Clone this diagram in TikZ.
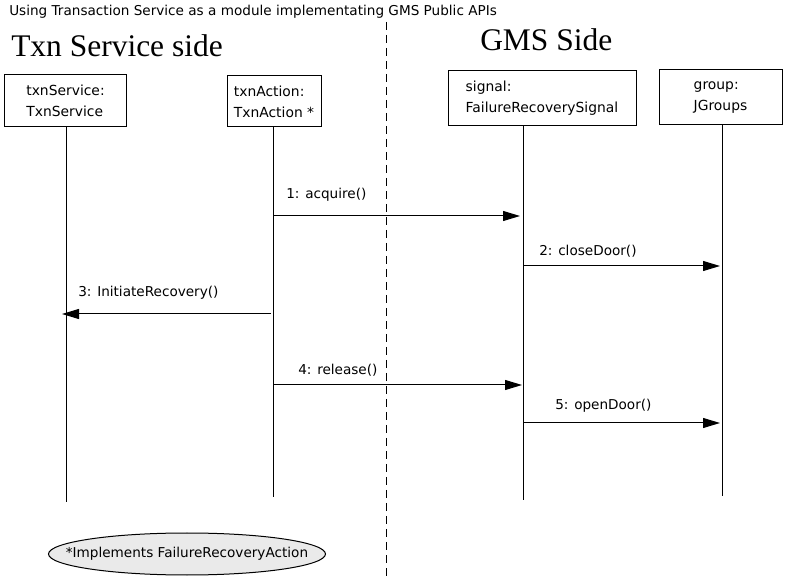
\documentclass[tikz,border=0pt]{standalone}
\usepackage{fontspec}
\setmainfont{DejaVu Sans}
\newfontfamily\headfont{Liberation Serif}
\usetikzlibrary{arrows.meta,shapes.geometric}
\definecolor{notefill}{RGB}{234,234,234}
\begin{document}
\begin{tikzpicture}[x=0.75pt,y=-0.75pt,
  objbox/.style={draw,line width=0.75pt,inner sep=0pt,align=left,font=\fontsize{10.4}{15.5}\selectfont},
  lifeline/.style={line width=0.75pt},
  msg/.style={line width=0.75pt,-{Triangle[length=12.75pt,width=7.5pt]}},
  msglabel/.style={anchor=base west,inner sep=0pt,font=\fontsize{10.2}{12}\selectfont},
  heading/.style={anchor=base west,inner sep=0pt,font=\headfont\fontsize{23.6}{28}\selectfont},
  divider/.style={line width=0.75pt,dash pattern=on 6pt off 3.75pt},
  noteshape/.style={ellipse,draw,line width=0.75pt,fill=notefill,inner sep=0pt,minimum width=207.75pt,minimum height=31.5pt}
]
\useasboundingbox (0,0) rectangle (794,581);

% title and headings
\node[msglabel] (title) at (9,16) {Using Transaction Service as a module implementating GMS Public APIs};
\node[heading] (lefthead) at (11,57) {Txn Service side};
\node[heading] (righthead) at (480,51) {GMS Side};

% divider
\coordinate (divtop) at (386.5,22);
\coordinate (divbot) at (386.5,581);
\draw[divider] (divtop) -- (divbot);

% object boxes
\node[objbox,minimum width=91.5pt,minimum height=39pt] (ts) at (65.5,101) {txnService:\\TxnService};
\node[objbox,minimum width=70.5pt,minimum height=38.25pt] (ta) at (274,101.5) {txnAction:\\TxnAction *};
\node[objbox,minimum width=141pt,minimum height=41.25pt] (sig) at (542,98.5) {signal:\\FailureRecoverySignal};
\node[objbox,minimum width=92.25pt,minimum height=41.25pt] (grp) at (720.5,97.5) {group:\\JGroups};

% lifelines
\coordinate (tsT) at (ts.south -| 66,0);
\coordinate (tsB) at (66,502);
\coordinate (taT) at (ta.south -| 273,0);
\coordinate (taB) at (273,497);
\coordinate (sigT) at (sig.south -| 523,0);
\coordinate (sigB) at (523,500);
\coordinate (grpT) at (grp.south -| 722,0);
\coordinate (grpB) at (722,496);
\draw[lifeline] (tsT) -- (tsB);
\draw[lifeline] (taT) -- (taB);
\draw[lifeline] (sigT) -- (sigB);
\draw[lifeline] (grpT) -- (grpB);

% messages
\draw[msg,shorten >=2.25pt] (taT |- 0,216) -- (sigT |- 0,216);
\node[msglabel] (m1) at (286,199) {1: acquire()};

\draw[msg,shorten >=1.5pt] (sigT |- 0,266) -- (grpT |- 0,266);
\node[msglabel] (m2) at (539,256) {2: closeDoor()};

\draw[msg,shorten <=1.5pt,shorten >=-3pt] (taT |- 0,314) -- (tsT |- 0,314);
\node[msglabel] (m3) at (78,297) {3: InitiateRecovery()};

\draw[msg,shorten >=0.75pt] (taT |- 0,385) -- (sigT |- 0,385);
\node[msglabel] (m4) at (298,375) {4: release()};

\draw[msg,shorten >=1.5pt] (sigT |- 0,423) -- (grpT |- 0,423);
\node[msglabel] (m5) at (555,410) {5: openDoor()};

% note
\node[noteshape] (noteshape) at (187,554) {};
\node[inner sep=0pt,font=\fontsize{10.2}{12}\selectfont] (note) at (noteshape.center) {*Implements FailureRecoveryAction};
\end{tikzpicture}
\end{document}
